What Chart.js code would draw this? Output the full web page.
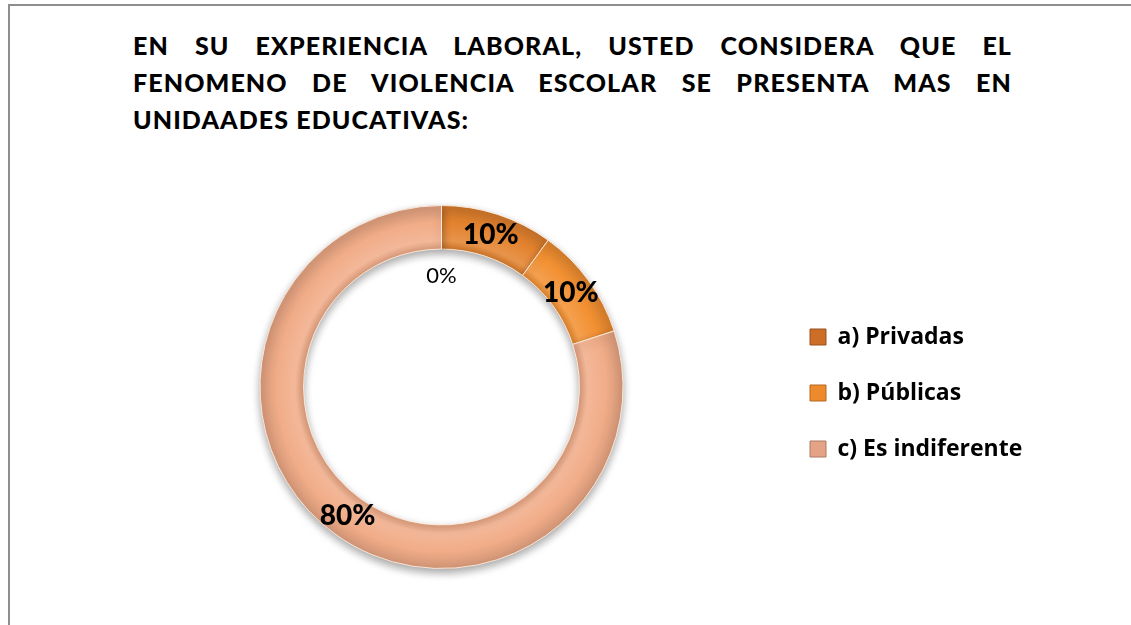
<!DOCTYPE html>
<html>
<head>
<meta charset="utf-8">
<script src="https://cdn.jsdelivr.net/npm/chart.js@4.4.1/dist/chart.umd.min.js"></script>
<style>
    body { margin: 0; background: #fff; font-family: Lato, "Noto Sans", sans-serif; }
    #frame { position: absolute; left: 8px; top: 4px; width: 1130px; height: 630px;
             border-left: 2px solid #8e8e8e; border-top: 2px solid #8e8e8e; }
    #title { position: absolute; left: 133px; top: 27px; width: 879px;
             font-weight: 900; font-size: 25px; line-height: 37px;
             letter-spacing: 1.1px; color: #000; }
    #title .j { text-align: justify; text-align-last: justify; }
    #chart { position: absolute; left: 0; top: 0; }
</style>
</head>
<body>
<div id="frame"></div>
<div id="title">
    <div class="j">EN SU EXPERIENCIA LABORAL, USTED CONSIDERA QUE EL</div>
    <div class="j">FENOMENO DE VIOLENCIA ESCOLAR SE PRESENTA MAS EN</div>
    <div>UNIDAADES EDUCATIVAS:</div>
</div>
<canvas id="chart" width="1131" height="625"></canvas>
<script>
// data
const categories = ["a) Privadas", "b) Públicas", "c) Es indiferente"];
const percentages = [10, 10, 80];
const zeroSeries = [0];   // the lone "0%" label sitting inside the ring

// colours
const sliceColors = ["#E3822E", "#F29032", "#F1AC88"];
const legendColors = ["#CC6D28", "#EE8A2C", "#E5A386"];

const legendFont = { family: "Open Sans", size: 23, weight: "bold" };
const legendPad = 33, legendBox = 16;

function shade(hex, amt) {
    const n = parseInt(hex.slice(1), 16);
    let r = (n >> 16) & 255, g = (n >> 8) & 255, b = n & 255;
    const f = c => Math.max(0, Math.min(255, Math.round(amt < 0 ? c * (1 + amt) : c + (255 - c) * amt)));
    return `rgb(${f(r)},${f(g)},${f(b)})`;
}

// bevelled look: radial gradient across the ring thickness
function ringFill(ctx) {
    const base = sliceColors[ctx.dataIndex];
    const area = ctx.chart.chartArea;
    if (!area) return base;
    const cx = (area.left + area.right) / 2, cy = (area.top + area.bottom) / 2;
    const R = Math.min(area.width, area.height) / 2, r = R * 0.76;
    const g = ctx.chart.ctx.createRadialGradient(cx, cy, r, cx, cy, R);
    g.addColorStop(0, shade(base, -0.1));
    g.addColorStop(0.18, shade(base, 0.14));
    g.addColorStop(0.6, base);
    g.addColorStop(1, shade(base, -0.14));
    return g;
}

// work out the right padding so the legend boxes start at x = 810
const mctx = document.createElement("canvas").getContext("2d");
mctx.font = `bold ${legendFont.size}px "${legendFont.family}"`;
const textW = Math.max(...categories.map(t => mctx.measureText(t).width));
const legendW = legendPad + legendBox + legendFont.size / 2 + textW + 10;
const padRight = 1131 - (810 - legendPad) - legendW;

const ringShadow = {
    id: "ringShadow",
    beforeDatasetDraw(chart, args) {
        if (args.index !== 0) return;
        const c = chart.ctx;
        c.save();
        c.shadowColor = "rgba(0,0,0,0.35)";
        c.shadowBlur = 8;
        c.shadowOffsetY = 4;
    },
    afterDatasetDraw(chart, args) {
        if (args.index === 0) chart.ctx.restore();
    }
};

// nudge the legend column a little lower than centred
const legendNudge = {
    id: "legendNudge",
    afterLayout(chart) {
        chart.legend.top += 6;
        chart.legend.bottom += 6;
    }
};

const valueLabels = {
    id: "valueLabels",
    afterDatasetsDraw(chart) {
        const c = chart.ctx;
        const outer = chart.getDatasetMeta(0);
        c.save();
        c.fillStyle = "#000";
        c.textAlign = "center";
        c.textBaseline = "middle";
        c.font = "900 28px Lato";
        outer.data.forEach((arc, i) => {
            const p = arc.tooltipPosition();
            c.fillText(percentages[i] + "%", p.x, p.y);
        });
        // zero-valued inner series: label drawn just inside the hole
        const inner = chart.getDatasetMeta(1);
        const ref = outer.data[0];
        c.font = "22px Lato";
        inner.data.forEach((arc, i) => {
            const a = arc.startAngle;
            const rr = ref.innerRadius - 27;
            c.fillText(zeroSeries[i] + "%", ref.x + Math.cos(a) * rr, ref.y + Math.sin(a) * rr);
        });
        c.restore();
    }
};

new Chart(document.getElementById("chart"), {
    type: "doughnut",
    data: {
        labels: categories,
        datasets: [{
            data: percentages,
            backgroundColor: ringFill,
            borderColor: "rgba(255,236,222,0.9)",
            borderWidth: 1
        }, {
            data: zeroSeries,
            weight: 0,
            backgroundColor: "rgba(0,0,0,0)",
            borderWidth: 0
        }]
    },
    options: {
        responsive: false,
        animation: false,
        cutout: "76%",
        layout: { padding: { left: 106, right: padRight, top: 205, bottom: 56 } },
        plugins: {
            tooltip: { enabled: false },
            legend: {
                position: "right",
                labels: {
                    boxWidth: legendBox,
                    boxHeight: legendBox,
                    padding: legendPad,
                    color: "#000",
                    font: legendFont,
                    generateLabels: chart => chart.data.labels.map((t, i) => ({
                        text: t,
                        fillStyle: legendColors[i],
                        strokeStyle: shade(legendColors[i], -0.25),
                        lineWidth: 1,
                        index: i
                    }))
                }
            }
        }
    },
    plugins: [ringShadow, legendNudge, valueLabels]
});
</script>
</body>
</html>
